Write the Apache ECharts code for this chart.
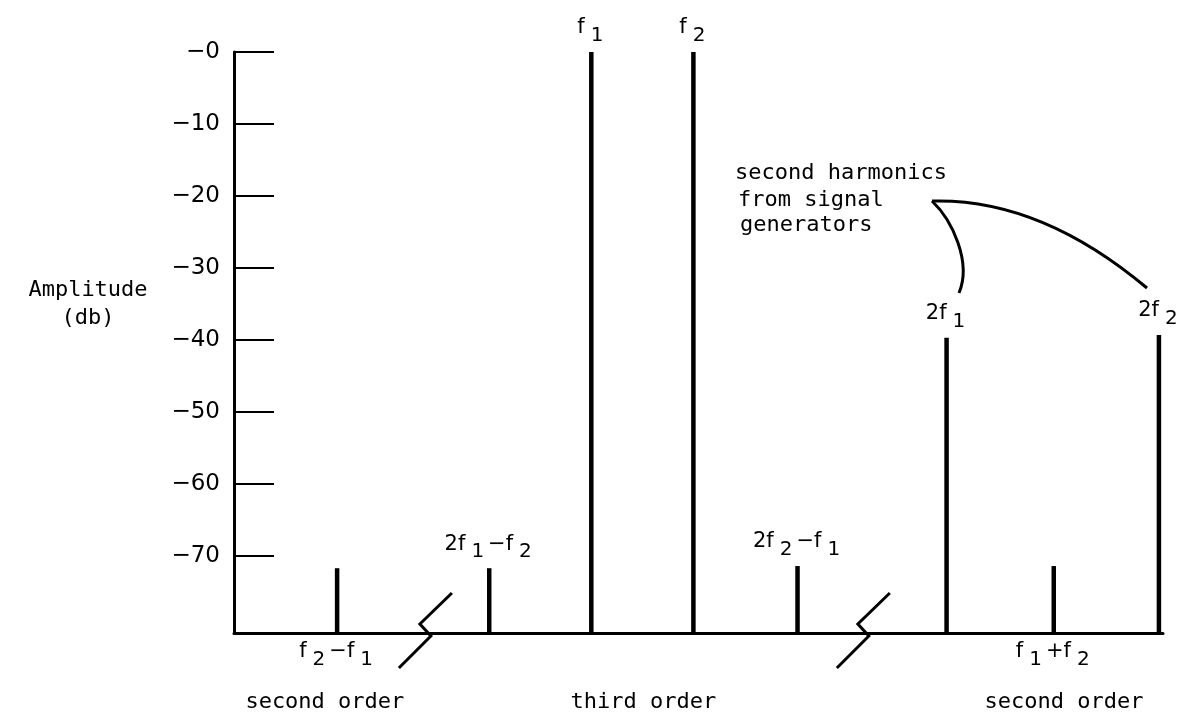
<!DOCTYPE html>
<html><head><meta charset="utf-8">
<script src="https://cdn.jsdelivr.net/npm/echarts@6/dist/echarts.min.js"></script>
<style>html,body{margin:0;padding:0;background:#fff}#c{width:1185px;height:712px}</style>
</head><body><div id="c"></div>
<script>
// ---- data ----
const lineNames = ['f2-f1', '2f1-f2', 'f1', 'f2', '2f2-f1', '2f1', 'f1+f2', '2f2'];
const linePositions = [1.01, 2.5, 3.5, 4.5, 5.52, 6.98, 8.03, 9.06];
const amplitudes = [-71.7, -71.7, 0, 0, -71.4, -39.7, -71.4, -39.3];
const lineLabels = ['{n|f}{s|2}{n|−f}{s|1}', '{n|2f}{s|1}{n|−f}{s|2}', '{n|f}{s|1}', '{n|f}{s|2}', '{n|2f}{s|2}{n|−f}{s|1}', '{n|2f}{s|1}', '{n|f}{s|1}{n|+f}{s|2}', '{n|2f}{s|2}'];
const labelBelow = [true, false, false, false, false, false, true, false];
const tickValues = [0, -10, -20, -30, -40, -50, -60, -70];
const tickLabels = ['−0', '−10', '−20', '−30', '−40', '−50', '−60', '−70'];
const breaksAt = [1.87, 6.16];
const orderGroups = ['second order', 'third order', 'second order'];
const orderCenters = [0.89, 4.01, 8.13];
const annotationLines = ['second harmonics', 'from signal', 'generators'];
const yAxisTitle = ['Amplitude', '(db)'];

const Y_MIN = -80.7, Y_MAX = 0, X_MIN = 0, X_MAX = 9.1;
const MONO = '"DejaVu Sans Mono", "Liberation Mono", monospace';
const SANS = '"DejaVu Sans", "Liberation Sans", sans-serif';

const chart = echarts.init(document.getElementById('c'));

const spectrumData = linePositions.map((x, i) => [x, amplitudes[i], i]);

const monoText = (text, x, y, align) => ({
  type: 'text', x, y,
  style: { text, fontFamily: MONO, fontSize: 22, fill: '#000', align, verticalAlign: 'middle' }
});

const option = {
  animation: false,
  backgroundColor: '#fff',
  grid: { left: 234, right: 22, top: 52, bottom: 79 },
  xAxis: {
    type: 'value', min: X_MIN, max: X_MAX,
    axisLine: { show: true, onZero: false, lineStyle: { color: '#000', width: 3 } },
    axisTick: { show: false }, axisLabel: { show: false }, splitLine: { show: false }
  },
  yAxis: {
    type: 'value', min: Y_MIN, max: Y_MAX,
    axisLine: { show: true, onZero: false, lineStyle: { color: '#000', width: 3 } },
    axisTick: { show: true, inside: true, length: 40, customValues: tickValues, lineStyle: { color: '#000', width: 2 } },
    axisLabel: {
      show: true, customValues: tickValues, margin: 14, color: '#000',
      fontFamily: SANS, fontSize: 23,
      formatter: v => { const i = tickValues.indexOf(v); return i >= 0 ? tickLabels[i] : ''; }
    },
    splitLine: { show: false }
  },
  graphic: [
    monoText(yAxisTitle[0], 88, 290, 'center'),
    monoText(yAxisTitle[1], 88, 318, 'center'),
    monoText(annotationLines[0], 735, 173, 'left'),
    monoText(annotationLines[1], 738, 200, 'left'),
    monoText(annotationLines[2], 740, 225, 'left'),
    { type: 'bezierCurve', shape: { x1: 932, y1: 201, cpx1: 952, cpy1: 220, cpx2: 972, cpy2: 262, x2: 959, y2: 293 }, style: { stroke: '#000', lineWidth: 3, fill: null } },
    { type: 'bezierCurve', shape: { x1: 932, y1: 201, cpx1: 1040, cpy1: 198, x2: 1147, y2: 288 }, style: { stroke: '#000', lineWidth: 3, fill: null } }
  ],
  series: [
    {
      type: 'custom', name: 'spectrum', data: spectrumData,
      renderItem: (params, api) => {
        const x = api.value(0), v = api.value(1), idx = api.value(2);
        const p0 = api.coord([x, Y_MIN]);
        const p1 = api.coord([x, v]);
        const below = labelBelow[idx];
        const ly = below ? p0[1] + 19 : p1[1] - 24;
        return {
          type: 'group',
          children: [
            { type: 'line', shape: { x1: p0[0], y1: p0[1], x2: p1[0], y2: p1[1] }, style: { stroke: '#000', lineWidth: 4.5 } },
            { type: 'text', x: p0[0], y: ly, style: {
                text: lineLabels[idx], fontFamily: SANS, fontSize: 21, fill: '#000', align: 'center', verticalAlign: 'middle',
                rich: {
                  n: { fontFamily: SANS, fontSize: 21, fill: '#000', padding: [0, 1, 0, 1] },
                  s: { fontFamily: SANS, fontSize: 20, fill: '#000', padding: [15, 3, 0, 5] }
                }
            } }
          ]
        };
      }
    },
    {
      type: 'custom', name: 'breaks', data: breaksAt.map(b => [b]),
      renderItem: (params, api) => {
        const c = api.coord([api.value(0), Y_MIN]);
        const rel = [[-26, 35], [6, 3], [-5, -9], [27, -40]];
        return { type: 'polyline', shape: { points: rel.map(p => [c[0] + p[0], c[1] + p[1]]) }, style: { stroke: '#000', lineWidth: 3, fill: null } };
      }
    },
    {
      type: 'custom', name: 'orders', data: orderCenters.map((x, i) => [x, i]),
      renderItem: (params, api) => {
        const c = api.coord([api.value(0), Y_MIN]);
        return { type: 'text', x: c[0], y: c[1] + 69, style: { text: orderGroups[api.value(1)], fontFamily: MONO, fontSize: 22, fill: '#000', align: 'center', verticalAlign: 'middle' } };
      }
    }
  ]
};
chart.setOption(option);
</script></body></html>
